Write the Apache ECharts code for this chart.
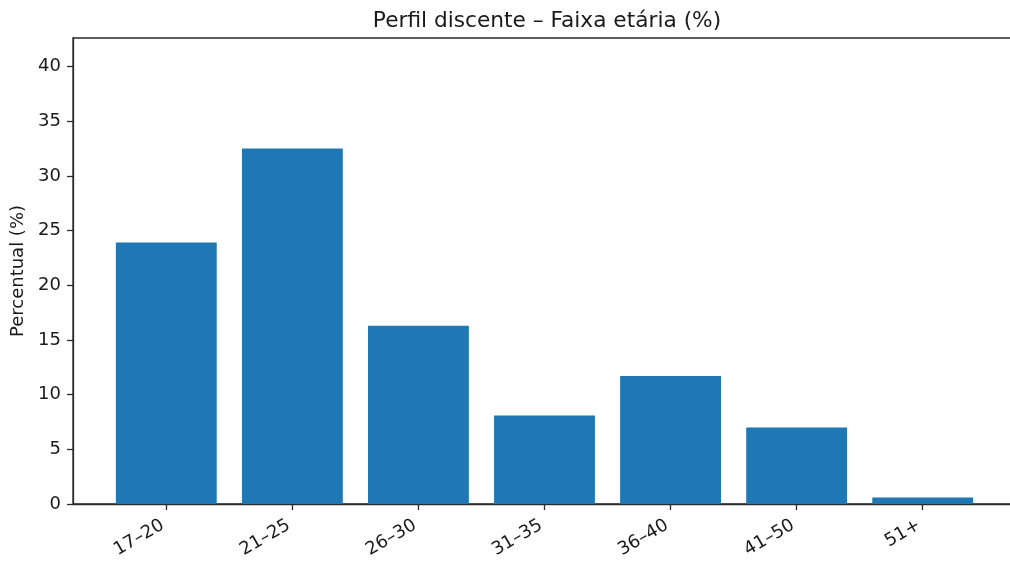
<!DOCTYPE html>
<html>
<head>
<meta charset="utf-8">
<title>Perfil discente – Faixa etária</title>
<script src="https://cdn.jsdelivr.net/npm/echarts@6/dist/echarts.min.js"></script>
<style>
  html, body { margin: 0; padding: 0; background: #fff; }
  #chart { width: 1010px; height: 561px; }
</style>
</head>
<body>
<div id="chart"></div>
<script>
// dados
var faixas = ['17–20', '21–25', '26–30', '31–35', '36–40', '41–50', '51+'];
var percentuais = [23.9, 32.5, 16.3, 8.1, 11.7, 7.0, 0.6];
var yTicks = [0, 5, 10, 15, 20, 25, 30, 35, 40];

var chart = echarts.init(document.getElementById('chart'));

var posicoes = faixas.map(function (f, i) { return i; });
var dados = percentuais.map(function (v, i) { return [i, v]; });

var fonte = 'DejaVu Sans';
var corTexto = '#1a1a1a';
var corLinha = '#2a2a2a';

var option = {
  animation: false,
  title: {
    text: 'Perfil discente – Faixa etária (%)',
    left: 542,
    textAlign: 'center',
    top: 5,
    textStyle: { fontFamily: fonte, fontSize: 21.7, fontWeight: 'normal', color: corTexto }
  },
  grid: {
    left: 73,
    right: -6,
    top: 38,
    bottom: 57,
    outerBoundsMode: 'none',
    containLabel: false,
    show: true,
    borderColor: corLinha,
    borderWidth: 1.3
  },
  xAxis: {
    type: 'value',
    min: -0.74,
    max: 6.74,
    splitLine: { show: false },
    axisLine: { show: true, lineStyle: { color: corLinha, width: 1.3 } },
    axisTick: { show: true, length: 6, customValues: posicoes, lineStyle: { color: corLinha, width: 1.3 } },
    axisLabel: {
      customValues: posicoes,
      rotate: 30,
      margin: 18,
      padding: [0, 4, 0, 0],
      fontFamily: fonte,
      fontSize: 18,
      color: corTexto,
      formatter: function (v) { return faixas[Math.round(v)]; }
    }
  },
  yAxis: {
    type: 'value',
    min: 0,
    max: 42.6,
    name: 'Percentual (%)',
    nameLocation: 'middle',
    nameRotate: 90,
    nameGap: 43,
    nameTextStyle: { fontFamily: fonte, fontSize: 18, color: corTexto },
    splitLine: { show: false },
    axisLine: { show: true, onZero: false, lineStyle: { color: corLinha, width: 1.3 } },
    axisTick: { show: true, length: 6, customValues: yTicks, lineStyle: { color: corLinha, width: 1.3 } },
    axisLabel: {
      customValues: yTicks,
      margin: 12,
      fontFamily: fonte,
      fontSize: 18,
      color: corTexto
    }
  },
  series: [{
    type: 'bar',
    data: dados,
    barWidth: '80%',
    itemStyle: { color: '#1f77b4' }
  }]
};

chart.setOption(option);
</script>
</body>
</html>
